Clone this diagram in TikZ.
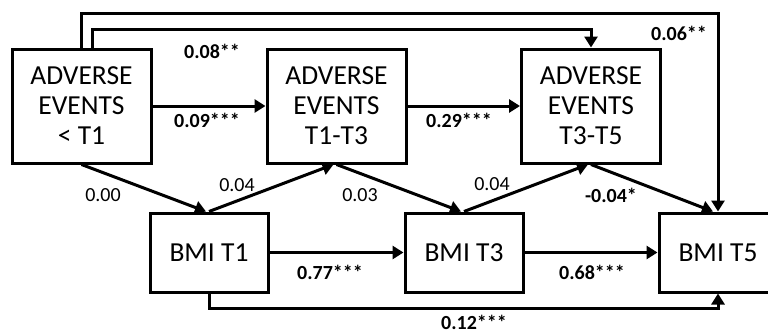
\documentclass[tikz,border=0pt]{standalone}
\usepackage{fontspec}
\setmainfont{Carlito}
\usetikzlibrary{arrows.meta,calc}
\begin{document}
\begin{tikzpicture}[x=1pt,y=-1pt,
  box/.style={draw,line width=3pt,align=center,inner sep=0pt,
    font=\fontsize{27.5}{30}\selectfont},
  abox/.style={box,minimum width=139pt,minimum height=114pt},
  bbox/.style={box,minimum width=118pt,minimum height=79pt},
  arr/.style={line width=3pt,-{Triangle[length=11pt,width=13pt]}},
  lab/.style={font=\fontsize{20}{22}\selectfont,inner sep=0pt},
  blab/.style={lab,font=\fontsize{20}{22}\selectfont\bfseries}]
\useasboundingbox (0,0) rectangle (768,335);
\begin{scope}
\clip (0,0) rectangle (768,335);
\node[abox] (A1) at (81.5,106) {ADVERSE\\EVENTS\\< T1};
\node[abox] (A2) at (336.5,106) {ADVERSE\\EVENTS\\T1-T3};
\node[abox] (A3) at (591,106) {ADVERSE\\EVENTS\\T3-T5};
\node[bbox] (B1) at (209,252.5) {BMI T1};
\node[bbox] (B3) at (464,252.5) {BMI T3};
\node[bbox] (B5) at (718,252.5) {BMI T5};
\coordinate (topO) at (0,13);
\coordinate (topI) at (0,29);
\coordinate (botL) at (0,308);
% horizontal
\draw[arr] (A1) -- (A2);
\draw[arr] (A2) -- (A3);
\draw[arr] (B1) -- (B3);
\draw[arr] (B3) -- (B5);
% diagonals
\draw[arr] (A1.south) -- ($(B1.north)+(-3,0)$);
\draw[arr] (B1.north) -- ($(A2.south)+(-3,0)$);
\draw[arr] (A2.south) -- ($(B3.north)+(-3,0)$);
\draw[arr] (B3.north) -- ($(A3.south)+(-3,0)$);
\draw[arr] (A3.south) -- ($(B5.north)+(-5,0)$);
% long paths
\draw[arr] (A1.north) |- (topO -| B5.north) -- (B5.north);
\draw[arr] ($(A1.north)+(10.5,0)$) |- (topI -| A3.north) -- (A3.north);
\draw[arr] (B1.south) |- (botL -| B5.south) -- (B5.south);
% labels
\node[blab] (l1) at (212,51) {0.08**};
\node[blab] (l2) at (207,120) {0.09***};
\node[blab] (l3) at (459,120) {0.29***};
\node[blab] (l4) at (679,33) {0.06**};
\node[lab] (l5) at (103,195) {0.00};
\node[lab] (l6) at (237,185) {0.04};
\node[lab] (l7) at (360,195) {0.03};
\node[lab] (l8) at (492,184) {0.04};
\node[blab] (l9) at (611,195) {-0.04*};
\node[blab] (l10) at (330,272) {0.77***};
\node[blab] (l11) at (592,272) {0.68***};
\node[blab] (l12) at (474,322) {0.12***};
\end{scope}
\end{tikzpicture}
\end{document}
